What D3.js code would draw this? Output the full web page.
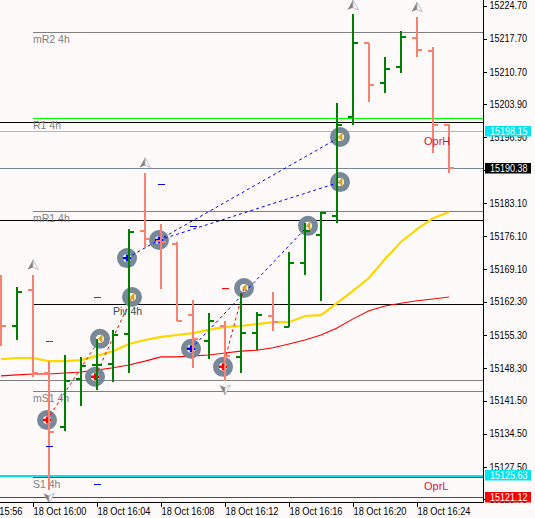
<!DOCTYPE html>
<html><head><meta charset="utf-8">
<script src="https://cdn.jsdelivr.net/npm/d3@7"></script>
<style>html,body{margin:0;padding:0;background:#fffafa;overflow:hidden}svg{display:block}text{font-family:"Liberation Sans",Arial,sans-serif}</style>
</head><body><svg id="c" width="535" height="518"></svg>
<script>
const barTimes=["15:58","15:59","16:00","16:01","16:02","16:03","16:04","16:05","16:06","16:07","16:08","16:09","16:10","16:11","16:12","16:13","16:14","16:15","16:16","16:17","16:18","16:19","16:20","16:21","16:22","16:23","16:24","16:25","16:26"];
const opens =[15160.0,15157.2,15164.8,15147.3,15135.9,15146.0,15149.0,15149.2,15155.5,15177.2,15175.1,15174.5,15159.5,15154.0,15157.2,15150.7,15155.7,15159.3,15157.0,15170.5,15176.4,15180.4,15201.2,15216.8,15208.4,15211.7,15217.9,15215.1,15199.5];
const highs =[15167.9,15165.4,15167.9,15149.8,15151.1,15150.7,15154.5,15156.4,15177.6,15189.4,15178.7,15174.9,15162.7,15159.9,15158.2,15164.1,15160.1,15164.4,15172.8,15178.9,15181.2,15204.2,15222.9,15216.8,15213.9,15219.3,15222.3,15216.0,15199.7];
const lows  =[15153.0,15154.3,15146.5,15122.7,15135.1,15140.3,15143.7,15145.4,15147.3,15173.6,15165.0,15158.2,15148.4,15150.2,15145.6,15147.3,15152.1,15156.1,15157.0,15167.9,15162.5,15178.9,15199.5,15204.4,15206.3,15210.5,15213.9,15193.6,15189.4];
const closes=[15157.2,15164.4,15147.3,15134.9,15145.6,15148.8,15149.0,15155.3,15177.0,15175.5,15174.9,15158.2,15154.5,15158.2,15150.9,15155.7,15159.5,15158.0,15170.5,15177.2,15181.0,15199.5,15216.8,15208.0,15211.3,15218.1,15215.3,15199.5,15190.5];
const maSlow=[15146.7,15146.9,15147.1,15147.1,15147.3,15147.5,15147.9,15148.4,15149.0,15149.8,15150.7,15150.7,15150.9,15151.1,15151.5,15151.9,15152.1,15152.6,15153.4,15154.25,15155.3,15156.8,15158.7,15160.4,15161.4,15162.0,15162.5,15162.9,15163.3];
const maFast=[15150.2,15150.46,15150.46,15149.8,15149.8,15150.0,15150.9,15151.9,15153.4,15154.25,15154.9,15155.3,15155.7,15156.4,15157.0,15157.2,15157.6,15158.0,15158.0,15159.3,15159.5,15162.0,15164.6,15167.3,15171.3,15174.9,15177.6,15179.9,15181.2];
const priceTicks=[15224.70,15217.70,15210.70,15203.90,15196.90,15190.10,15183.10,15176.10,15169.10,15162.30,15155.30,15148.30,15141.50,15134.50,15127.50,15120.70];
const timeTicks=["15:56","16:00","16:04","16:08","16:12","16:16","16:20","16:24"];
const levelNames=["mR2","green","black1","cyan1","slate","mR1","black2","piv","gray","mS1","cyan2","red1","red2"];
const levelPrices=[15219.0,15200.9,15200.1,15198.15,15190.38,15181.4,15179.5,15161.8,15145.7,15143.4,15125.63,15125.3,15121.12];
const levelColors=["#808080","#00ff00","#000000","#40e8e8","#778899","#808080","#000000","#000000","#808080","#808080","#00e5ee","#ff0000","#ff0000"];
const levelFrom=["16:00","16:00","15:56","15:56","15:56","16:00","15:56","16:00","15:56","16:00","15:56","16:00","15:56"];
const levelWidths=[1,1,1,1,1,1,1,1,1,1,2,1,1];
const labelTexts=["mR2 4h","R1 4h","mR1 4h","Piv 4h","mS1 4h","S1 4h"];
const labelPrices=[15219.0,15200.9,15181.4,15161.8,15143.4,15125.3];
const labelColors=["#808080","#808080","#808080","#2f4f4f","#808080","#808080"];
const tradeKinds=["buy","buy","buy","sell","sell","sell"];
const tradeOpenTime=["16:06","16:08","16:10","16:01","16:04","16:12"];
const tradeOpenPrice=[15171.5,15175.3,15152.4,15137.4,15146.5,15148.6];
const tradeCloseTime=["16:19","16:19","16:17","16:04","16:06","16:13"];
const tradeClosePrice=[15197.0,15187.5,15178.3,15154.5,15163.3,15165.2];
const dashTimes=["16:08","16:10","16:04","16:01","16:12","16:01","16:04"];
const dashPrices=[15187.1,15178.05,15163.1,15154.0,15165.0,15131.9,15123.9];
const dashColors=["#0000ff","#0000ff","#ff0000","#ff0000","#ff0000","#0000ff","#0000ff"];
const upTimes=["16:00","16:07","16:20","16:24"];
const upPrices=[15170.0,15191.5,15224.7,15224.3];
const downTimes=["16:01","16:12"];
const downPrices=[15121.0,15143.8];
const tagValues=["15198.15","15190.38","15125.63","15121.12"];
const tagColors=["#00e5ee","#000000","#00e5ee","#ff0000"];

const W=535,H=518,axisX=483.5,axisY=502.5;
const t=s=>{const[a,b]=s.split(":").map(Number);return new Date(Date.UTC(2021,9,18,a,b));};
const x=d3.scaleUtc().domain([t("16:00"),t("16:28")]).range([33,33+16*28]);
const y=d3.scaleLinear().domain([15224.7,15127.5]).range([5.5,467]);
const R=v=>Math.floor(v)+0.5;
const svg=d3.select("#c");
svg.append("rect").attr("width",W).attr("height",H).attr("fill","#fffafa");

// levels
const gL=svg.append("g").attr("shape-rendering","crispEdges");
levelNames.forEach((n,i)=>{
  gL.append("line").attr("x1",Math.max(0,x(t(levelFrom[i])))).attr("x2",axisX)
    .attr("y1",R(y(levelPrices[i]))).attr("y2",R(y(levelPrices[i])))
    .attr("stroke",levelColors[i]).attr("stroke-width",levelWidths[i]);
});
labelTexts.forEach((s,i)=>{
  svg.append("text").attr("x",33).attr("y",R(y(labelPrices[i]))+10.5).attr("font-size",10.5)
    .attr("fill",labelColors[i]).attr("dx",s.startsWith("Piv")?80:0).text(s);
});

// moving averages
const line=d3.line().x((d,i)=>x(t(barTimes[i]))).y(d=>y(d));
svg.append("path").attr("d",line(maSlow)).attr("fill","none").attr("stroke","#ff0000").attr("stroke-width",1.1);
svg.append("path").attr("d",line(maFast)).attr("fill","none").attr("stroke","#ffd700").attr("stroke-width",2.2);

// trade circles
const gC=svg.append("g");
const openX=s=>x(t(s))-2, closeX=s=>x(t(s))+3;
tradeKinds.forEach((k,i)=>{
  [[openX(tradeOpenTime[i]),y(tradeOpenPrice[i])],[closeX(tradeCloseTime[i]),y(tradeClosePrice[i])]].forEach(p=>{
    gC.append("circle").attr("cx",p[0]).attr("cy",p[1]).attr("r",10).attr("fill","#778899");
    gC.append("circle").attr("cx",p[0]).attr("cy",p[1]).attr("r",4).attr("fill","#fffafa");
  });
});
// trade links and glyphs
tradeKinds.forEach((k,i)=>{
  const c=k==="buy"?"#0000ff":"#ff0000";
  const x0=openX(tradeOpenTime[i]),y0=y(tradeOpenPrice[i]),x1=closeX(tradeCloseTime[i]),y1=y(tradeClosePrice[i]);
  svg.append("line").attr("x1",x0).attr("y1",y0).attr("x2",x1).attr("y2",y1).attr("stroke",c).attr("stroke-width",1).attr("stroke-dasharray","3 3");
  svg.append("path").attr("d",`M${x0-4},${y0}H${x0+4}M${x0},${y0-3.5}V${y0+3.5}`).attr("stroke",c).attr("stroke-width",2.4);
  svg.append("path").attr("d",`M${x1-2},${y1}L${x1+2.5},${y1-5}V${y1+5}Z`).attr("fill","#daa520");
});
// bars
const gB=svg.append("g").attr("shape-rendering","crispEdges");
barTimes.forEach((s,i)=>{
  const c=closes[i]>=opens[i]?"#008000":"#fa8072", X=x(t(s));
  gB.append("line").attr("x1",X).attr("x2",X).attr("y1",y(highs[i])).attr("y2",y(lows[i])).attr("stroke",c).attr("stroke-width",2);
  gB.append("line").attr("x1",X-5).attr("x2",X).attr("y1",y(opens[i])).attr("y2",y(opens[i])).attr("stroke",c).attr("stroke-width",2);
  gB.append("line").attr("x1",X).attr("x2",X+5).attr("y1",y(closes[i])).attr("y2",y(closes[i])).attr("stroke",c).attr("stroke-width",2);
});
dashTimes.forEach((s,i)=>{
  const X=x(t(s)),Y=R(y(dashPrices[i]));
  svg.append("line").attr("x1",X-3).attr("x2",X+4).attr("y1",Y).attr("y2",Y).attr("stroke",dashColors[i]).attr("shape-rendering","crispEdges");
});
// arrows
const arrow=(X,Y,dir)=>{
  svg.append("path").attr("d",`M${X},${Y-5.5*dir}L${X-5.5},${Y+4.5*dir}L${X},${Y+2*dir}Z`).attr("fill","#8a8078");
  svg.append("path").attr("d",`M${X},${Y-5.5*dir}L${X+5.5},${Y+4.5*dir}L${X},${Y+2*dir}Z`).attr("fill","#fffafa").attr("stroke","#a8b4c4").attr("stroke-width",.8);
};
upTimes.forEach((s,i)=>arrow(x(t(s)),y(upPrices[i]),1));
downTimes.forEach((s,i)=>arrow(x(t(s)),y(downPrices[i]),-1));
// op labels
svg.append("text").attr("x",x(t("16:24"))+7).attr("y",y(15198.15)+13).attr("font-size",11).attr("fill","#dc143c").text("OprH");
svg.append("text").attr("x",x(t("16:24"))+7).attr("y",y(15125.63)+14).attr("font-size",11).attr("fill","#dc143c").text("OprL");

// axes
svg.append("rect").attr("x",484).attr("width",W-484).attr("height",H).attr("fill","#fffafa");
svg.append("rect").attr("y",503).attr("width",W).attr("height",H-503).attr("fill","#fffafa");
const fmt=d3.utcFormat("%d %b %H:%M");
const gx=svg.append("g").attr("transform",`translate(0,${axisY})`).call(d3.axisBottom(x).tickValues(timeTicks.map(t)).tickFormat(fmt).tickSize(4).tickSizeOuter(0));
gx.select(".domain").attr("d",`M0,0H${axisX}`).attr("stroke","#000");
gx.selectAll(".tick text").attr("text-anchor","start").attr("dx",0).attr("y",5).attr("dy","0.78em").attr("font-size",10).attr("font-family","Liberation Sans").attr("fill","#000").attr("textLength",53).attr("lengthAdjust","spacingAndGlyphs");
const gy=svg.append("g").attr("transform",`translate(${axisX},0)`).call(d3.axisRight(y).tickValues(priceTicks).tickFormat(d3.format(".2f")).tickSize(3).tickSizeOuter(0));
gy.select(".domain").attr("d",`M0,0V${axisY}`).attr("stroke","#000");
gy.selectAll(".tick text").attr("x",6).attr("font-size",10).attr("font-family","Liberation Sans").attr("fill","#000").attr("textLength",37.5).attr("lengthAdjust","spacingAndGlyphs");
gx.selectAll("line,path").attr("shape-rendering","crispEdges");
gy.selectAll("line,path").attr("shape-rendering","crispEdges");
// price tags
tagValues.forEach((v,i)=>{
  const Y=Math.floor(y(+v));
  svg.append("rect").attr("x",485).attr("y",Y-5).attr("width",46).attr("height",10.5).attr("fill",tagColors[i]);
  svg.append("text").attr("x",490).attr("y",Y+3.5).attr("font-size",10).attr("fill","#fff").attr("textLength",37.5).attr("lengthAdjust","spacingAndGlyphs").text(v);
});
</script></body></html>
